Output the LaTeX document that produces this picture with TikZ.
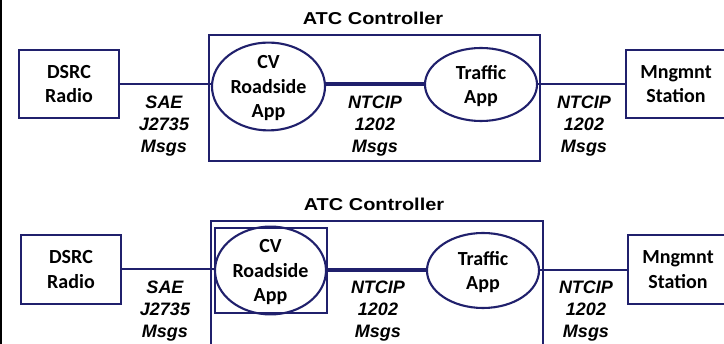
\documentclass[tikz,border=0pt]{standalone}
\usepackage{fontspec}
\setmainfont{Carlito}
\newfontfamily\arialfont{Liberation Sans}
\usetikzlibrary{shapes.geometric}
\definecolor{navy}{RGB}{32,32,108}

\begin{document}
\begin{tikzpicture}[x=1pt, y=-1pt,
  box/.style={draw=navy, line width=2.1pt, minimum width=100pt, minimum height=68pt,
    inner sep=0pt, align=center, text depth=0pt,
    font=\bfseries\fontsize{20}{24.5}\selectfont},
  app/.style={ellipse, draw=navy, line width=2.1pt, inner sep=0pt, align=center,
    text depth=0pt, font=\bfseries\fontsize{20}{24.5}\selectfont},
  ctl/.style={draw=navy, line width=1.6pt, inner sep=0pt},
  link/.style={navy, line width=2pt},
  bus/.style={navy, line width=4pt},
  msg/.style={align=center, text depth=0pt, inner sep=0pt,
    font=\arialfont\bfseries\itshape\fontsize{18}{22}\selectfont},
  heading/.style={inner sep=0pt, font=\arialfont\bfseries\fontsize{17.2}{21}\selectfont}
]
\useasboundingbox (0,0) rectangle (724,344);
\fill[white] (0,0) rectangle (724,344);
\clip (0,0) rectangle (724,344);
% left frame edge
\fill[black] (0,0) rectangle (2,344);

% ---------- upper arrangement ----------
\node[heading] (t1) at (373,18.5) {\scalebox{1.16}[1]{ATC Controller}};
\node[ctl, minimum width=331pt, minimum height=126pt] (atc1) at (374.5,98) {};
\node[box] (dsrc1) at (69,84) {DSRC\\Radio};
\node[app, minimum width=113pt, minimum height=81pt] (cv1) at (268.5,86.5) {CV\\Roadside\\App};
\node[app, minimum width=112pt, minimum height=73pt] (tr1) at (481,84.5) {Traffic\\App};
\node[box] (mg1) at (676,84) {Mngmnt\\Station};

\draw[link] (dsrc1.east) -- (dsrc1.east -| cv1.west);
\draw[bus] (cv1.east |- tr1.west) -- (tr1.west);
\draw[link] (tr1.east) -- (tr1.east -| mg1.west);

\node[msg] (m1) at (164,124) {SAE\\J2735\\Msgs};
\node[msg] (m2) at (375,124) {NTCIP\\1202\\Msgs};
\node[msg] (m3) at (584,124) {NTCIP\\1202\\Msgs};

% ---------- lower arrangement ----------
\node[heading] (t2) at (374,204) {\scalebox{1.16}[1]{ATC Controller}};
\node[ctl, minimum width=332pt, minimum height=126pt] (atc2) at (377,284) {};
\node[ctl, line width=2.1pt, minimum width=112pt, minimum height=85pt] (wrap2) at (271,270.5) {};
\node[box, minimum height=69pt] (dsrc2) at (71,269.5) {DSRC\\Radio};
\node[app, minimum width=111pt, minimum height=77pt] (cv2) at (270.5,270.5) {CV\\Roadside\\App};
\node[app, minimum width=112pt, minimum height=75pt] (tr2) at (483,270.5) {Traffic\\App};
\node[box, minimum height=69pt] (mg2) at (678,269.5) {Mngmnt\\Station};

\draw[link] (dsrc2.east) -- (dsrc2.east -| cv2.west);
\draw[bus] (cv2.east) -- (tr2.west);
\draw[link] (tr2.east) -- (tr2.east -| mg2.west);

\node[msg] (m4) at (165,309) {SAE\\J2735\\Msgs};
\node[msg] (m5) at (378,309) {NTCIP\\1202\\Msgs};
\node[msg] (m6) at (586,309) {NTCIP\\1202\\Msgs};
\end{tikzpicture}
\end{document}
